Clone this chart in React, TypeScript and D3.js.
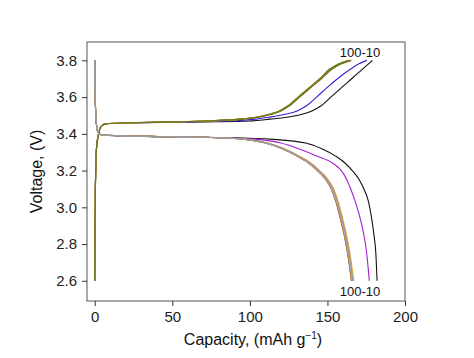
import React, { useEffect, useRef } from 'react';
import * as d3 from 'd3';

const width = 474;
const height = 358;
const box = { left: 87, right: 405, top: 42, bottom: 301 };

// voltage grid shared by every charge curve, capacities read at those voltages
const chargeVolts = [2.6, 3.1, 3.33, 3.4, 3.44, 3.455, 3.46, 3.465, 3.47, 3.48, 3.49, 3.505, 3.525, 3.55, 3.6, 3.65, 3.7, 3.75, 3.78, 3.8];
// voltage grid shared by every discharge curve
const dischargeVolts = [3.8, 3.6, 3.46, 3.41, 3.395, 3.39, 3.385, 3.38, 3.37, 3.35, 3.32, 3.28, 3.24, 3.2, 3.15, 3.1, 3.03, 2.95, 2.85, 2.75, 2.6];

const cycles = [10, 20, 30, 40, 50, 60, 70, 80, 90, 100];
const chargeColors = ['#111111', '#3a20d8', '#e03a2a', '#9a9a9a', '#b8a8e0', '#d8cc10', '#f0a020', '#2e8b2e', '#c07030', '#6b7a1f'];
const dischargeColors = ['#111111', '#a020d0', '#e03a2a', '#f0a020', '#d8cc10', '#2e8b2e', '#6b7a1f', '#c07030', '#b8a8e0', '#9a9a9a'];

const chargeCaps = [
  [0, 0.4, 1.2, 2.5, 4, 8, 30, 70, 100, 113, 124, 133, 140, 145.5, 152.2, 158.9, 165.6, 172.3, 176.3, 179],
  [0, 0.4, 1.2, 2.5, 4, 7, 22, 50, 85, 104, 112, 122, 130.5, 136, 143, 149.5, 156.5, 164.5, 170, 175.5],
  [0, 0.4, 1.2, 2.5, 4, 7, 25, 50, 72, 95, 105, 113, 120, 125, 132, 139, 146, 152.5, 158.5, 165.5],
  [0, 0.4, 1.2, 2.5, 4, 7, 24, 49, 71, 94, 104, 112, 119.5, 124.5, 131.5, 138.5, 145.5, 152, 158, 165],
  [0, 0.4, 1.2, 2.5, 4, 7, 25, 50, 72, 95, 105, 113, 120, 125, 132, 139, 146, 152, 158, 164.5],
  [0, 0.4, 1.2, 2.5, 4, 7, 23, 48, 70, 93, 103.5, 111.5, 119, 124, 131, 138, 145, 151.5, 157.5, 164],
  [0, 0.4, 1.2, 2.5, 4, 7, 24, 49, 71, 94, 104.5, 112.5, 119.5, 124.5, 131.5, 138.5, 145.5, 151.5, 157.5, 164],
  [0, 0.4, 1.2, 2.5, 4, 7, 23, 48, 70, 93, 104, 112, 119, 124, 131, 138, 145, 151, 157, 163.5],
  [0, 0.4, 1.2, 2.5, 4, 7, 24, 49, 71, 94, 104, 112, 119.5, 124.5, 131.5, 138.5, 145.5, 152, 158, 164.5],
  [0, 0.4, 1.2, 2.5, 4, 7, 25, 50, 72, 95, 105, 113, 120, 125, 132, 139, 146, 152.5, 158.5, 165],
];

const dischargeCaps = [
  [0, 0.3, 1, 2, 4, 12, 40, 80, 115, 136, 146, 155, 161.5, 166, 170.5, 173.5, 176.5, 178.3, 180, 181.2, 182],
  [0, 0.3, 1, 2, 4, 14, 42, 78, 105, 120, 131, 143, 153.5, 159, 162.5, 165, 168, 170.8, 173.5, 175.3, 177],
  [0, 0.3, 1, 2, 4, 15, 45, 75, 98, 111, 121.5, 131, 139, 144.5, 150, 153.5, 156.5, 159, 161.8, 164, 166.5],
  [0, 0.3, 1, 2, 4, 15, 45, 75, 98.5, 111.5, 122, 131.5, 139.5, 145, 150.5, 154, 157, 159.5, 162.3, 164.5, 167],
  [0, 0.3, 1, 2, 4, 15, 45, 75, 98, 111, 121.5, 131, 139, 144.5, 150, 153.5, 156.5, 159, 161.8, 164, 166.5],
  [0, 0.3, 1, 2, 4, 15, 45, 75, 97.5, 110.5, 121, 130.5, 138.5, 144, 149.5, 153, 156, 158.5, 161.3, 163.5, 166],
  [0, 0.3, 1, 2, 4, 15, 45, 75, 97, 110, 120.5, 130, 138, 143.5, 149, 152.5, 155.5, 158, 160.8, 163, 165.5],
  [0, 0.3, 1, 2, 4, 15, 45, 75, 97, 110, 120.5, 130, 138, 143.5, 149, 152.5, 155.5, 158, 160.8, 163, 165.5],
  [0, 0.3, 1, 2, 4, 15, 45, 75, 97.5, 110.5, 121, 130.5, 138.5, 144, 149.5, 153, 156, 158.5, 161.3, 163.5, 166],
  [0, 0.3, 1, 2, 4, 15, 45, 75, 98, 111, 121.5, 131, 139, 144.5, 150, 153.5, 156.5, 159, 161.8, 164, 166.5],
];

const xTicks = [0, 50, 100, 150, 200];
const yTicks = [2.6, 2.8, 3.0, 3.2, 3.4, 3.6, 3.8];
const cycleLabel = '100-10';

const xScale = d3.scaleLinear().domain([-5, 200]).range([box.left, box.right]);
const yScale = d3.scaleLinear().domain([2.49, 3.9]).range([box.bottom, box.top]);

const line = d3.line<number[]>()
  .x(d => xScale(d[0]))
  .y(d => yScale(d[1]))
  .curve(d3.curveMonotoneX);

export default function App() {
  const xAxisRef = useRef<SVGGElement>(null);
  const yAxisRef = useRef<SVGGElement>(null);

  useEffect(() => {
    document.body.style.margin = '0';

    // x-axis with minor ticks every 25
    const xG = d3.select(xAxisRef.current);
    xG.selectAll('*').remove();
    xG.call(d3.axisBottom(xScale).tickValues(d3.range(0, 201, 25)).tickSize(4).tickFormat(() => ''));
    xG.call(d3.axisBottom(xScale).tickValues(xTicks).tickSize(5).tickPadding(5).tickFormat(d3.format('d')));

    // y-axis with minor ticks every 0.1
    const yG = d3.select(yAxisRef.current);
    yG.selectAll('*').remove();
    yG.call(d3.axisLeft(yScale).tickValues(d3.range(2.5, 3.85, 0.1)).tickSize(3).tickFormat(() => ''));
    yG.call(d3.axisLeft(yScale).tickValues(yTicks).tickSize(5).tickPadding(5).tickFormat(d3.format('.1f')));

    [xG, yG].forEach(g => {
      g.selectAll('.domain').remove();
      g.selectAll('line').attr('stroke', '#333');
      g.selectAll('text')
        .attr('fill', '#222')
        .style('font-family', '"Liberation Sans", Arial, sans-serif')
        .style('font-size', '15px');
    });
  }, []);

  const font = '"Liberation Sans", Arial, sans-serif';

  return (
    <svg width={width} height={height} style={{ display: 'block', background: '#fff' }}>
      <defs>
        <clipPath id="plot-clip">
          <rect x={box.left} y={box.top} width={box.right - box.left} height={box.bottom - box.top} />
        </clipPath>
      </defs>
      <g clipPath="url(#plot-clip)" fill="none" strokeWidth={1.1}>
        {cycles.map((c, i) => (
          <path key={'c' + c} d={line(chargeCaps[i].map((q, j) => [q, chargeVolts[j]])) || ''} stroke={chargeColors[i]} />
        ))}
        {cycles.map((c, i) => (
          <path key={'d' + c} d={line(dischargeCaps[i].map((q, j) => [q, dischargeVolts[j]])) || ''} stroke={dischargeColors[i]} />
        ))}
      </g>
      <rect x={box.left} y={box.top} width={box.right - box.left} height={box.bottom - box.top}
        fill="none" stroke="#555" strokeWidth={1} />
      <g ref={xAxisRef} transform={`translate(0,${box.bottom})`} />
      <g ref={yAxisRef} transform={`translate(${box.left},0)`} />
      <text x={360} y={57} textAnchor="middle" fontFamily={font} fontSize={13} fill="#111">{cycleLabel}</text>
      <text x={360} y={296} textAnchor="middle" fontFamily={font} fontSize={13} fill="#111">{cycleLabel}</text>
      <text x={253} y={345} textAnchor="middle" fontFamily={font} fontSize={16} fill="#111">
        Capacity, (mAh g<tspan dy={-6} fontSize={10}>−1</tspan><tspan dy={6}>)</tspan>
      </text>
      <text transform={`translate(42,${(box.top + box.bottom) / 2}) rotate(-90)`} textAnchor="middle"
        fontFamily={font} fontSize={16} fill="#111">Voltage, (V)</text>
    </svg>
  );
}
